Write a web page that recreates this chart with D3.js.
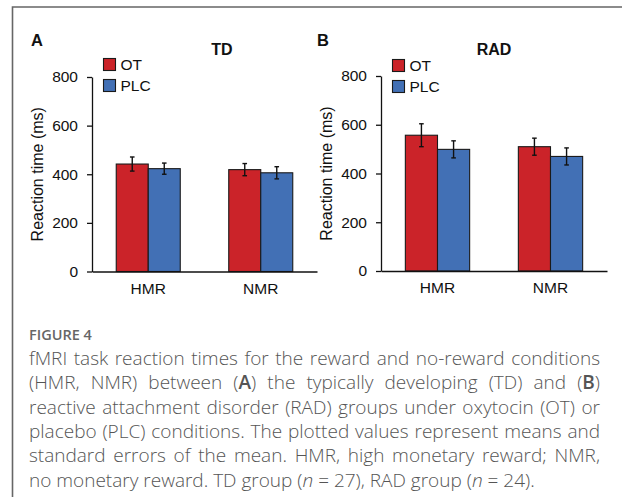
<!DOCTYPE html>
<html>
<head>
<meta charset="utf-8">
<script src="https://cdn.jsdelivr.net/npm/d3@7"></script>
<style>
  html, body { margin: 0; padding: 0; background: #fff; }
  svg { display: block; }
</style>
</head>
<body>
<svg id="chart" width="622" height="497"></svg>
<script>
// ---------- data ----------
const categories = ["HMR", "NMR"];
const seriesNames = ["OT", "PLC"];
const seriesColors = ["#cb2329", "#4270b5"];
const yTicks = [0, 200, 400, 600, 800];

const tdOT = [442, 419];
const tdOTse = [29, 25];
const tdPLC = [423, 406];
const tdPLCse = [23, 25];

const radOT = [557, 510];
const radOTse = [47, 35];
const radPLC = [499, 470];
const radPLCse = [35, 35];

const captionHead = "FIGURE 4";
const captionLines = [
  "fMRI task reaction times for the reward and no-reward conditions",
  "(HMR, NMR) between (A) the typically developing (TD) and (B)",
  "reactive attachment disorder (RAD) groups under oxytocin (OT) or",
  "placebo (PLC) conditions. The plotted values represent means and",
  "standard errors of the mean. HMR, high monetary reward; NMR,",
  "no monetary reward. TD group (n = 27), RAD group (n = 24)."
];

// ---------- drawing ----------
const svg = d3.select("#chart");
const chartFont = "'Liberation Sans', Arial, sans-serif";

// frame
svg.append("path")
  .attr("d", "M12.5,497 L12.5,7 L622,7")
  .attr("fill", "none").attr("stroke", "#666").attr("stroke-width", 1.6);

function panel(opts) {
  const g = svg.append("g");
  const y = d3.scaleLinear().domain([0, 800]).range([opts.y0, opts.y1]);
  const x = d3.scaleBand().domain(categories).range([opts.x0, opts.x1])
    .paddingInner(0.431).paddingOuter(0.2155);
  const xs = d3.scaleBand().domain(seriesNames).range([0, x.bandwidth()]);

  const rows = [];
  categories.forEach((c, i) => {
    rows.push({ c, s: "OT", v: opts.ot[i], e: opts.otse[i], col: seriesColors[0] });
    rows.push({ c, s: "PLC", v: opts.plc[i], e: opts.plcse[i], col: seriesColors[1] });
  });

  g.selectAll("rect.bar").data(rows).enter().append("rect")
    .attr("class", "bar")
    .attr("x", d => x(d.c) + xs(d.s))
    .attr("width", xs.bandwidth())
    .attr("y", d => y(d.v))
    .attr("height", d => y(0) - y(d.v))
    .attr("fill", d => d.col)
    .attr("stroke", "#1a1a1a").attr("stroke-width", 1.1);

  // error bars
  const eb = g.selectAll("g.eb").data(rows).enter().append("g")
    .attr("transform", d => `translate(${x(d.c) + xs(d.s) + xs.bandwidth() / 2},0)`);
  eb.append("line").attr("y1", d => y(d.v + d.e)).attr("y2", d => y(d.v - d.e))
    .attr("stroke", "#111").attr("stroke-width", 1.4);
  eb.append("line").attr("x1", -2.3).attr("x2", 2.3)
    .attr("y1", d => y(d.v + d.e)).attr("y2", d => y(d.v + d.e))
    .attr("stroke", "#111").attr("stroke-width", 1.4);
  eb.append("line").attr("x1", -2.3).attr("x2", 2.3)
    .attr("y1", d => y(d.v - d.e)).attr("y2", d => y(d.v - d.e))
    .attr("stroke", "#111").attr("stroke-width", 1.4);

  // y axis
  const ya = g.append("g").attr("transform", `translate(${opts.x0},0)`)
    .call(d3.axisLeft(y).tickValues(yTicks).tickSize(5).tickSizeOuter(0).tickPadding(9));
  ya.select(".domain").attr("stroke", "#111").attr("stroke-width", 1.3);
  ya.selectAll(".tick line").attr("stroke", "#111").attr("stroke-width", 1.3);
  ya.selectAll(".tick text").attr("font-family", chartFont).attr("font-size", 15.5)
    .attr("fill", "#111");

  // x axis
  const xa = g.append("g").attr("transform", `translate(0,${opts.y0})`)
    .call(d3.axisBottom(x).tickSize(0).tickPadding(11));
  xa.select(".domain").attr("stroke", "#111").attr("stroke-width", 1.3);
  xa.selectAll(".tick text").attr("font-family", chartFont).attr("font-size", 15.5)
    .attr("fill", "#111");

  // y title
  g.append("text")
    .attr("transform", `translate(${opts.x0 - 49},${(opts.y0 + opts.y1) / 2}) rotate(-90)`)
    .attr("text-anchor", "middle")
    .attr("font-family", chartFont).attr("font-size", 16).attr("fill", "#111")
    .text("Reaction time (ms)");

  // panel letter
  g.append("text").attr("x", opts.letterX).attr("y", 46)
    .attr("font-family", chartFont).attr("font-size", 16.5).attr("font-weight", "bold")
    .attr("fill", "#111").text(opts.letter);

  // title
  g.append("text").attr("x", opts.titleX).attr("y", 55).attr("text-anchor", "middle")
    .attr("font-family", chartFont).attr("font-size", 16).attr("font-weight", "bold")
    .attr("fill", "#111").text(opts.title);

  // legend
  const lg = g.selectAll("g.leg").data(seriesNames).enter().append("g")
    .attr("transform", (d, i) => `translate(${opts.legX},${opts.legY + i * 21})`);
  lg.append("rect").attr("width", 12).attr("height", 12)
    .attr("fill", (d, i) => seriesColors[i]).attr("stroke", "#1a1a1a").attr("stroke-width", 1.1);
  lg.append("text").attr("x", 17).attr("y", 11.5)
    .attr("font-family", chartFont).attr("font-size", 15.5).attr("fill", "#111")
    .text(d => d);
}

panel({ x0: 92, x1: 317, y0: 271.5, y1: 77, ot: tdOT, otse: tdOTse, plc: tdPLC, plcse: tdPLCse,
  letter: "A", letterX: 31, title: "TD", titleX: 222, legX: 103.5, legY: 58.5 });
panel({ x0: 381, x1: 607, y0: 271, y1: 76, ot: radOT, otse: radOTse, plc: radPLC, plcse: radPLCse,
  letter: "B", letterX: 317, title: "RAD", titleX: 494, legX: 392.5, legY: 59.5 });

// caption
const capFont = "'Open Sans', 'Noto Sans', sans-serif";
svg.append("text").attr("x", 29).attr("y", 340)
  .attr("font-family", capFont).attr("font-size", 14.5).attr("font-weight", 600)
  .attr("fill", "#666").text(captionHead);

const capLeft = 29, capWidth = 571;
captionLines.forEach((line, i) => {
  const t = svg.append("text").attr("x", capLeft).attr("y", 365 + i * 24.3)
    .attr("font-family", capFont).attr("font-size", 19).attr("fill", "#555")
    .attr("font-weight", 300)
    .attr("xml:space", "preserve");
  const parts = line.split(/(\(n = \d+\))/);
  parts.forEach(p => {
    const m = p.match(/^\(n( = \d+\))$/);
    if (m) {
      t.append("tspan").text("(");
      t.append("tspan").attr("font-style", "italic").text("n");
      t.append("tspan").text(m[1]);
    } else if (p.length) {
      const sub = p.split(/(\([AB]\))/);
      sub.forEach(s => {
        const mm = s.match(/^\(([AB])\)$/);
        if (mm) {
          t.append("tspan").text("(");
          t.append("tspan").attr("font-weight", 600).text(mm[1]);
          t.append("tspan").text(")");
        } else if (s.length) {
          t.append("tspan").text(s);
        }
      });
    }
  });
  if (i < captionLines.length - 1) {
    const w = t.node().getComputedTextLength();
    const spaces = (line.match(/ /g) || []).length;
    if (spaces > 0) t.attr("word-spacing", (capWidth - w) / spaces);
  }
});
</script>
</body>
</html>
